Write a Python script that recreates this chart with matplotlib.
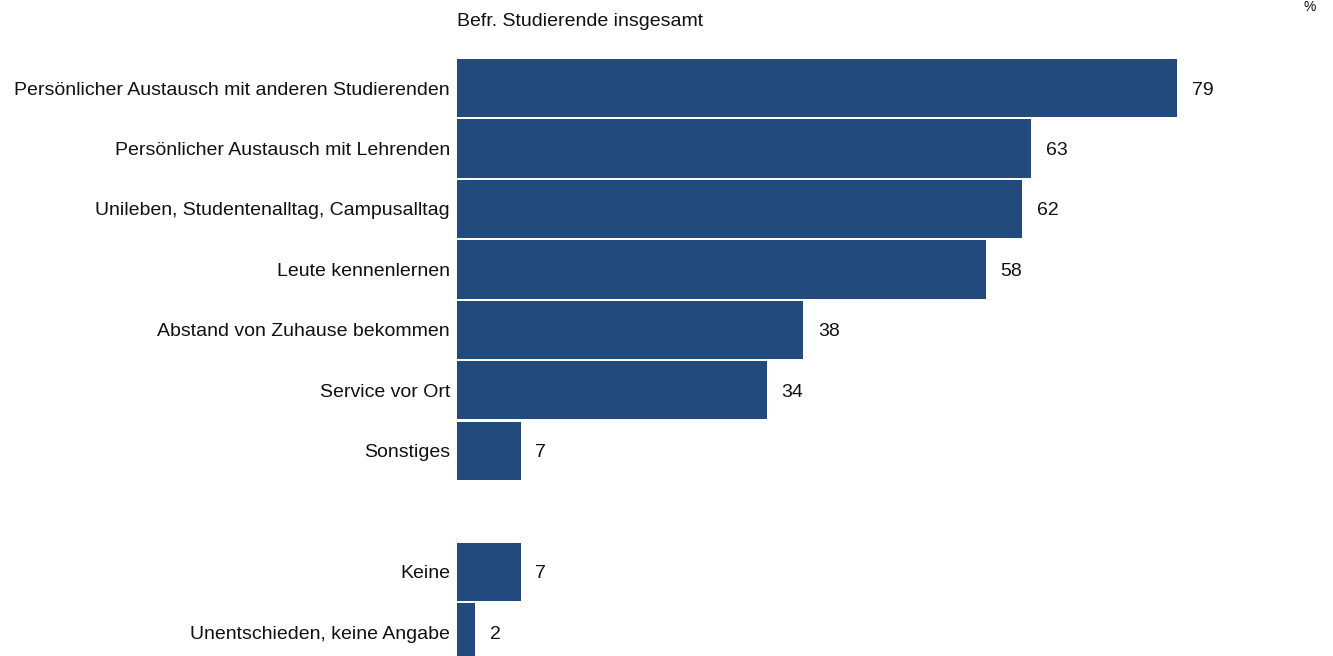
import matplotlib.pyplot as plt

plt.rcParams['font.family'] = ['Liberation Sans', 'DejaVu Sans']

# Data
categories = [
    'Persönlicher Austausch mit anderen Studierenden',
    'Persönlicher Austausch mit Lehrenden',
    'Unileben, Studentenalltag, Campusalltag',
    'Leute kennenlernen',
    'Abstand von Zuhause bekommen',
    'Service vor Ort',
    'Sonstiges',
    'Keine',
    'Unentschieden, keine Angabe',
]
values = [79, 63, 62, 58, 38, 34, 7, 7, 2]
# slot 7 is left empty as a separator
slots = [0, 1, 2, 3, 4, 5, 6, 8, 9]

bar_color = '#224a7c'
fs = 14

fig = plt.figure(figsize=(13.33, 6.56), dpi=100)
ax = fig.add_axes([457 / 1333, 0, 1 - 457 / 1333, 1])

ax.barh(slots, values, height=0.96, color=bar_color, edgecolor='none')

for s, v in zip(slots, values):
    ax.text(v + 1.6, s, str(v), va='center_baseline', ha='left', fontsize=fs, color='#111111')

ax.set_yticks(slots)
ax.set_yticklabels(categories, fontsize=fs, color='#111111', va='center_baseline')
ax.tick_params(axis='y', length=0, pad=5)
ax.set_xticks([])

ax.set_xlim(0, 96.1)
ax.set_ylim(9.39, -1.455)
for sp in ax.spines.values():
    sp.set_visible(False)

fig.text(457 / 1333, 1 - 21 / 656, 'Befr. Studierende insgesamt', fontsize=fs,
         va='center', ha='left', color='#111111')
fig.text(1303 / 1333, 1.0, '%', fontsize=10, va='top', ha='left', color='#111111')

fig.savefig('out.png', dpi=100)
